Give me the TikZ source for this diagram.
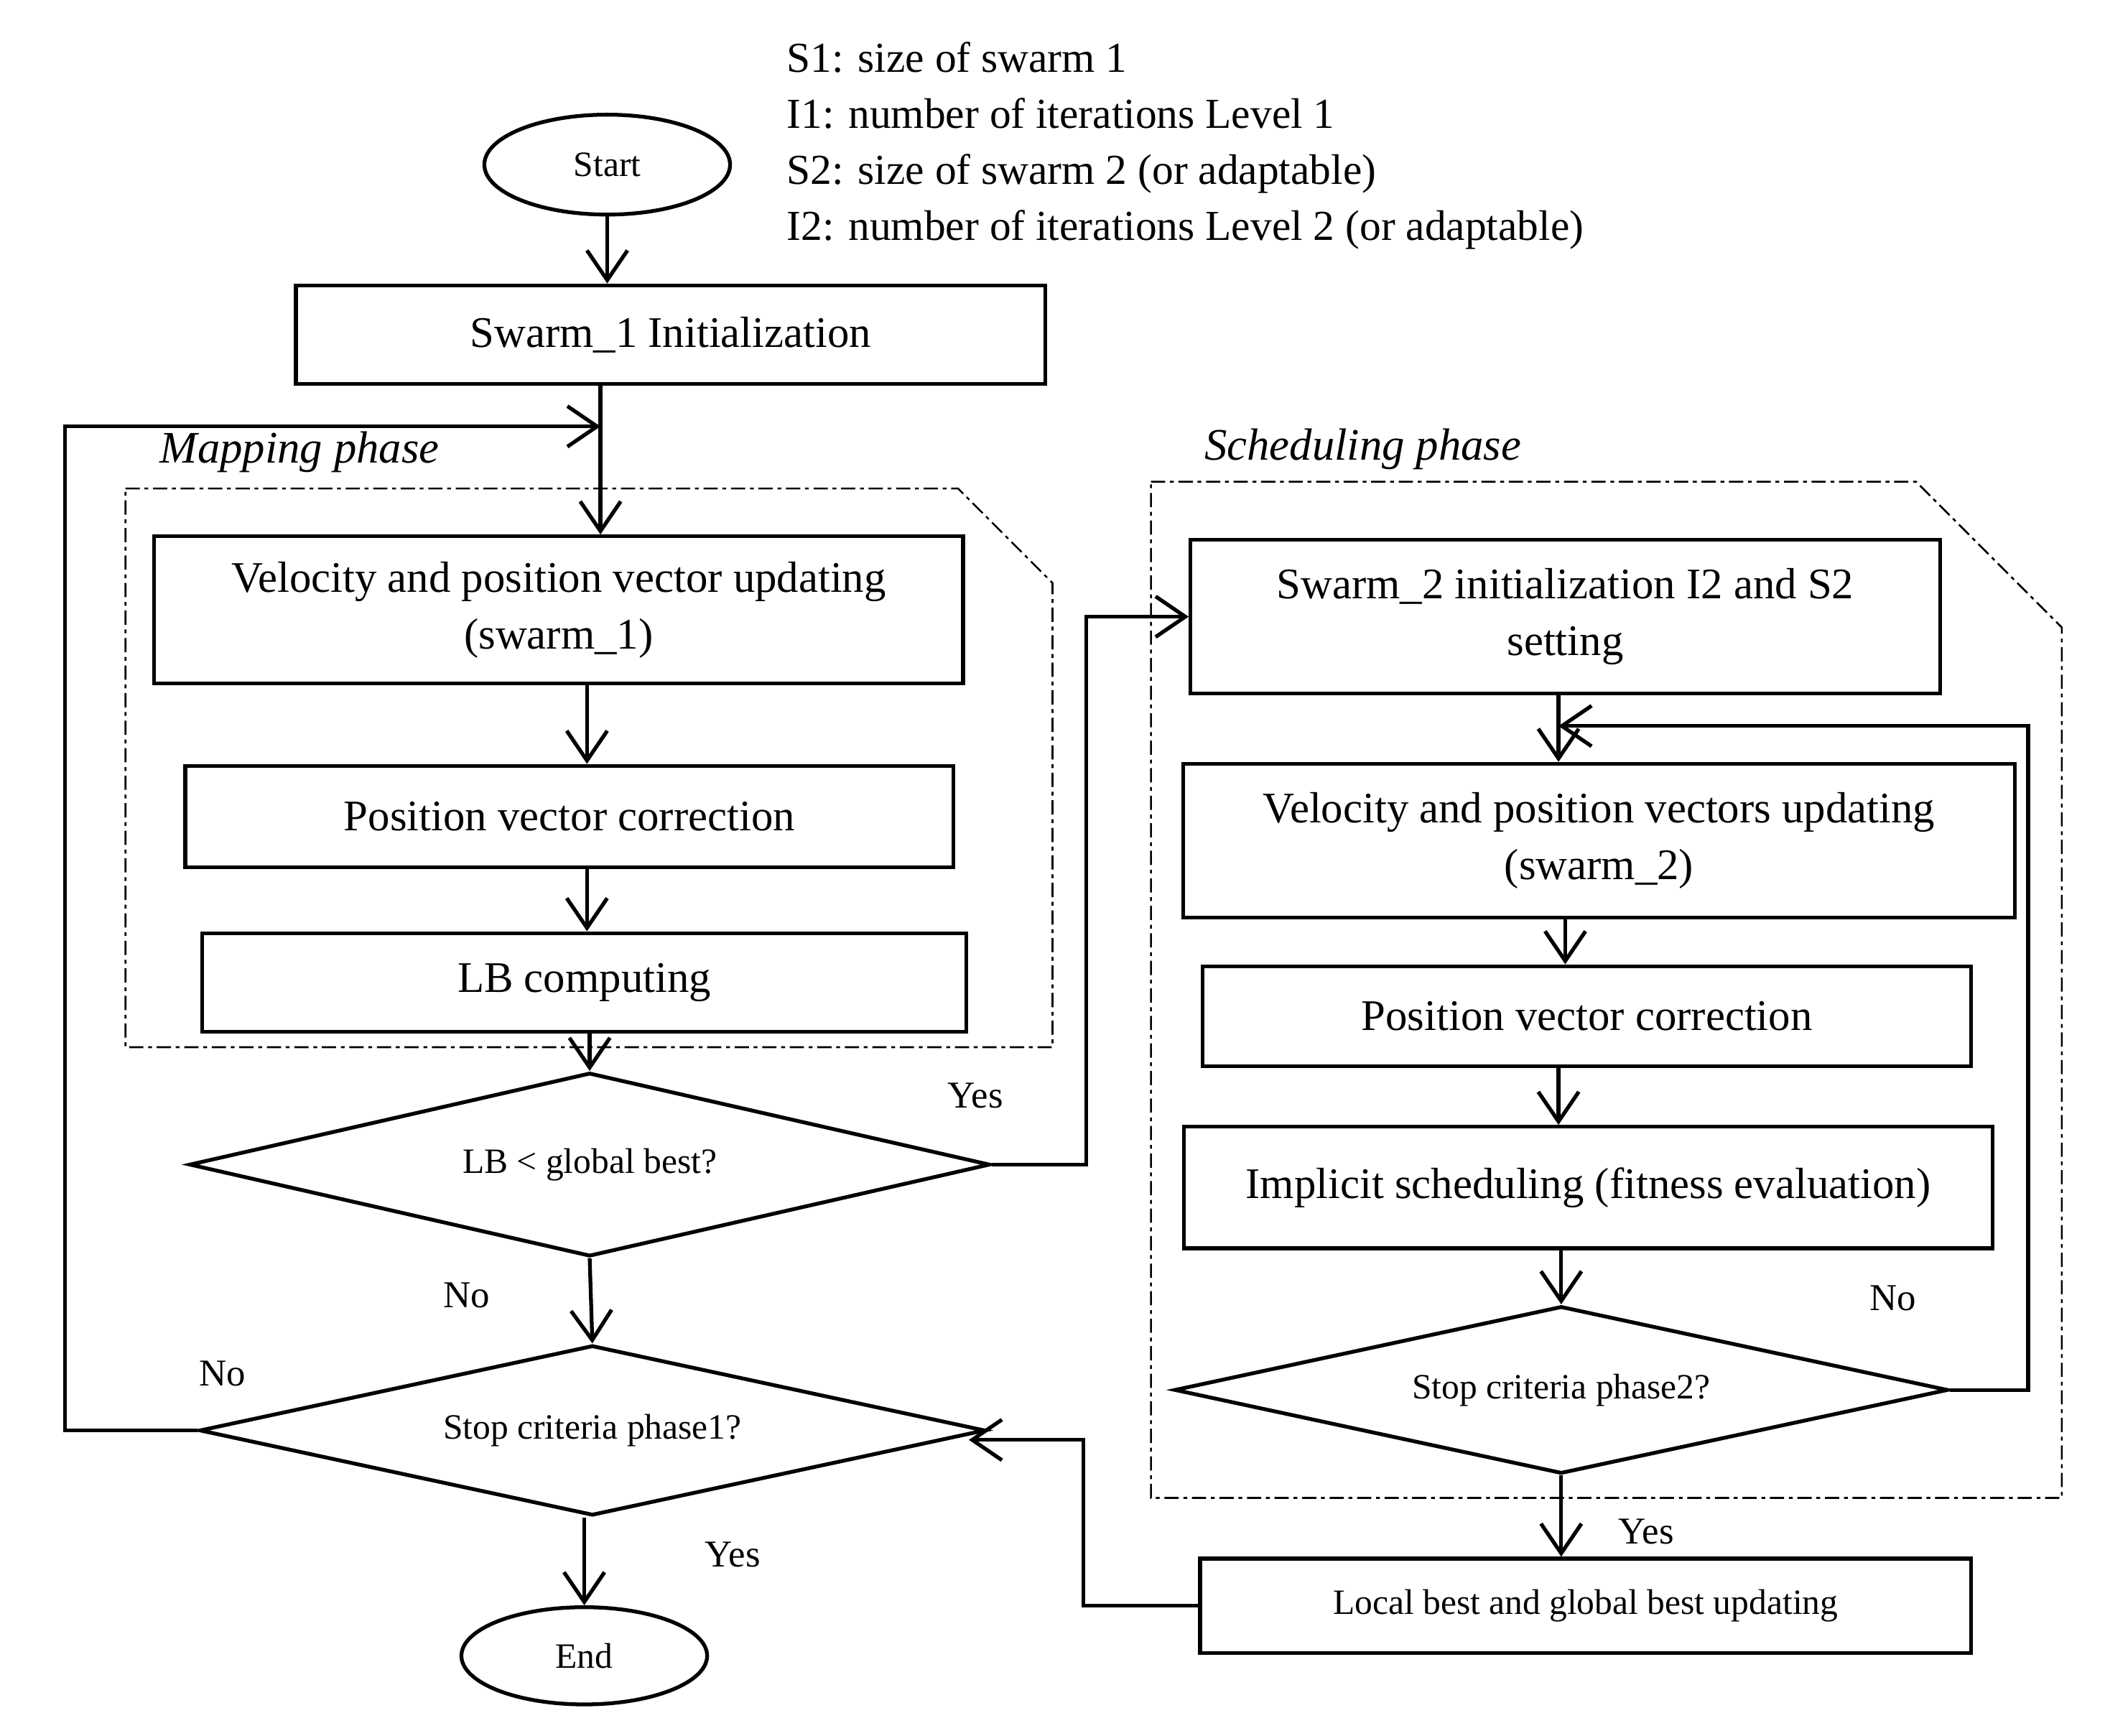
\documentclass[tikz,border=0pt]{standalone}
\usepackage{fontspec}
\setmainfont{Liberation Serif}
\usetikzlibrary{shapes.geometric,arrows.meta}
\tikzset{
  box/.style={draw, thick, rectangle, inner sep=0pt, align=center, font=\fontsize{9.2}{12}\selectfont},
  term/.style={draw, thick, ellipse, minimum width=1.82cm, minimum height=0.74cm, font=\fontsize{7.5}{9}\selectfont},
  dec/.style={draw, thick, diamond, aspect=4.4, inner sep=0pt, font=\fontsize{7.5}{9}\selectfont},
  phase/.style={densely dash dot, thin},
  lbl/.style={font=\fontsize{8}{10}\selectfont},
  arr/.style={-{Straight Barb[length=2.2mm,width=3mm]}},
}
\begin{document}
\begin{tikzpicture}[x=0.01cm, y=-0.01cm, thick]
  \useasboundingbox (0,0) rectangle (1560,1286);
  % legend
  \node[anchor=west, align=left, font=\fontsize{9}{11.8}\selectfont] (legend) at (570,108)
    {S1: size of swarm 1\\ I1: number of iterations Level 1\\ S2: size of swarm 2 (or adaptable)\\ I2: number of iterations Level 2 (or adaptable)};
  % mapping phase
  \draw[phase] (93,362) -- (710,362) -- (780,432) -- (780,776) -- (93,776) -- cycle;
  \node[font=\fontsize{9.5}{11}\itshape] (maplbl) at (222,335) {Mapping phase};
  \node[term] (start) at (450,122) {Start};
  \node[box, minimum width=5.55cm, minimum height=0.73cm] (sw1) at (497,248) {Swarm\_1 Initialization};
  \node[box, minimum width=5.99cm, minimum height=1.09cm] (vel1) at (414,452) {Velocity and position vector updating\\(swarm\_1)};
  \node[box, minimum width=5.69cm, minimum height=0.75cm] (pos1) at (422,605) {Position vector correction};
  \node[box, minimum width=5.66cm, minimum height=0.73cm] (lb) at (433,728) {LB computing};
  \node[dec, minimum width=5.93cm, minimum height=1.36cm] (d1) at (437,863) {LB < global best?};
  \node[dec, minimum width=5.82cm, minimum height=1.26cm] (d2) at (439,1060) {Stop criteria phase1?};
  \node[term, minimum height=0.72cm] (end) at (433,1227) {End};
  % scheduling phase
  \draw[phase] (853,357) -- (1420,357) -- (1528,465) -- (1528,1110) -- (853,1110) -- cycle;
  \node[font=\fontsize{9.5}{11}\itshape] (schlbl) at (1010,333) {Scheduling phase};
  \node[box, minimum width=5.55cm, minimum height=1.14cm] (sw2) at (1160,457) {Swarm\_2 initialization I2 and S2\\setting};
  \node[box, minimum width=6.16cm, minimum height=1.14cm] (vel2) at (1185,623) {Velocity and position vectors updating\\(swarm\_2)};
  \node[box, minimum width=5.69cm, minimum height=0.74cm] (pos2) at (1176,753) {Position vector correction};
  \node[box, minimum width=5.99cm, minimum height=0.90cm] (impl) at (1177,880) {Implicit scheduling (fitness evaluation)};
  \node[dec, minimum width=5.73cm, minimum height=1.24cm] (d3) at (1157,1030) {Stop criteria phase2?};
  \node[box, minimum width=5.71cm, minimum height=0.70cm, font=\fontsize{7.5}{9}\selectfont] (upd) at (1175,1190) {Local best and global best updating};
  % labels
  \node[lbl] (y1) at (723,812) {Yes};
  \node[lbl] (n1) at (346,960) {No};
  \node[lbl] (n2) at (165,1018) {No};
  \node[lbl] (y2) at (543,1152) {Yes};
  \node[lbl] (n3) at (1403,962) {No};
  \node[lbl] (y3) at (1220,1135) {Yes};
  % connectors
  \coordinate (in1) at (445,316);
  \coordinate (in2) at (1155,538);
  \draw[arr] (start.south) -- (start.south |- sw1.north);
  \draw[arr] (445,285) -- (vel1.north -| in1);
  \draw[arr] (vel1.south -| 435,0) -- (pos1.north -| 435,0);
  \draw[arr] (pos1.south -| 435,0) -- (lb.north -| 435,0);
  \draw[arr] (lb.south -| d1.north) -- (d1.north);
  \draw[arr] (d1.south) -- (d2.north);
  \draw[arr] (d2.south -| end.north) -- (end.north);
  \draw[arr] (d2.west) -- (48,1060) |- (in1);
  \draw[arr] (d1.east) -- (805,863) |- (sw2.west);
  \draw[arr] (sw2.south -| in2) -- (vel2.north -| in2);
  \draw[arr] (vel2.south -| 1160,0) -- (pos2.north -| 1160,0);
  \draw[arr] (pos2.south -| 1155,0) -- (impl.north -| 1155,0);
  \draw[arr] (impl.south -| d3.north) -- (d3.north);
  \draw[arr] (d3.east) -- (1503,1030) |- (in2);
  \draw[arr] (d3.south) -- (upd.north -| d3.south);
  \draw[arr] (upd.west) -- (803,1190) |- (718,1067);
\end{tikzpicture}
\end{document}
